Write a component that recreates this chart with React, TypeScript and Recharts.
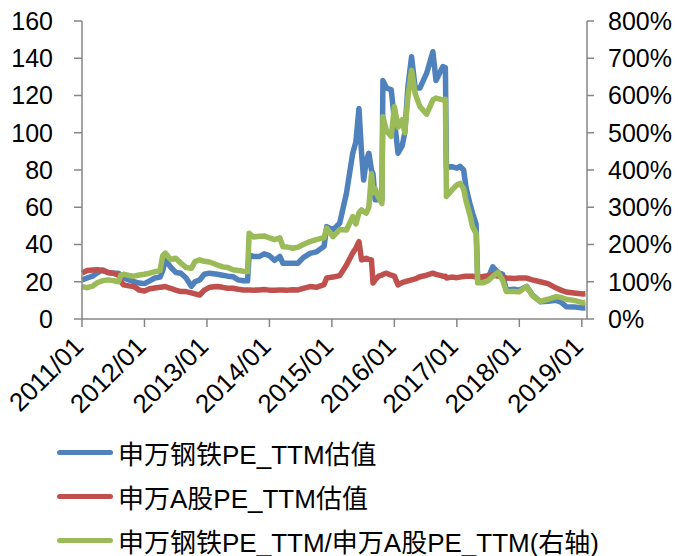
import { LineChart, Line, XAxis, YAxis, Legend } from 'recharts';

const FONT = '"Liberation Sans", Arial, "Noto Sans CJK SC", sans-serif';

// observation dates
const dates = [
  '2011-01-01', '2011-02-01', '2011-03-01', '2011-04-01', '2011-05-01', '2011-06-01', '2011-07-01', '2011-08-01',
  '2011-08-16', '2011-09-01', '2011-10-01', '2011-11-01', '2011-12-01', '2012-01-01', '2012-02-01', '2012-03-01',
  '2012-04-01', '2012-04-16', '2012-05-01', '2012-06-01', '2012-07-01', '2012-08-01', '2012-09-01', '2012-10-01',
  '2012-10-22', '2012-11-19', '2012-12-16', '2013-01-16', '2013-03-01', '2013-04-01', '2013-05-01', '2013-06-01',
  '2013-07-01', '2013-08-01', '2013-08-25', '2013-09-04', '2013-10-01', '2013-11-01', '2013-12-01', '2014-01-01',
  '2014-02-01', '2014-03-01', '2014-03-19', '2014-04-16', '2014-05-16', '2014-06-16', '2014-07-16', '2014-08-25',
  '2014-10-01', '2014-11-16', '2014-12-01', '2015-01-07', '2015-02-16', '2015-03-25', '2015-05-01', '2015-05-19',
  '2015-06-07', '2015-06-22', '2015-07-04', '2015-07-19', '2015-08-04', '2015-08-19', '2015-08-28', '2015-09-10',
  '2015-10-01', '2015-10-19', '2015-10-25', '2015-11-16', '2015-12-13', '2016-01-01', '2016-01-22', '2016-02-16',
  '2016-03-01', '2016-03-19', '2016-04-10', '2016-05-01', '2016-05-28', '2016-07-07', '2016-08-13', '2016-09-01',
  '2016-10-10', '2016-10-25', '2016-11-01', '2016-12-01', '2017-01-01', '2017-01-19', '2017-02-10', '2017-02-25',
  '2017-03-16', '2017-04-01', '2017-04-22', '2017-05-01', '2017-06-01', '2017-07-01', '2017-07-28', '2017-08-28',
  '2017-09-25', '2017-10-16', '2017-12-01', '2018-01-01', '2018-02-13', '2018-03-16', '2018-05-01', '2018-06-16',
  '2018-08-04', '2018-09-01', '2018-10-01', '2018-11-16', '2019-01-07', '2019-01-22',
];

// 申万钢铁 PE_TTM
const steelPE = [
  21, 22, 23, 25, 26.3, 25, 24.6, 24.6,
  23, 22, 21, 20, 19.3, 19, 20.5, 22,
  22.5, 26, 31.7, 28, 25, 24.6, 22, 17.5,
  20, 21, 24, 24.6, 24, 23.5, 23, 22.7,
  21, 20.5, 20.5, 34.4, 33.5, 33.5, 35, 34,
  31.5, 33.6, 29.9, 30, 30, 30, 33, 35.2,
  36, 39, 49.6, 47.8, 51.5, 67.6, 89, 95,
  113, 89, 74.6, 85, 89, 80, 78, 64,
  64, 64, 128, 124, 123, 107, 89, 93,
  100, 124.6, 140.8, 124, 124, 132, 143.5, 128,
  135.5, 135, 81.6, 81.8, 81, 82, 80, 70,
  62, 57, 51, 21, 19.8, 22, 28, 25,
  24, 15.6, 16, 15.5, 17.5, 13, 9.3, 9.5,
  10, 9, 6.6, 6.5, 5.9, 6,
];

// 申万A股 PE_TTM
const marketPE = [
  24.7, 26, 26.3, 26.5, 26, 25, 24.6, 23.6,
  20, 18.3, 17.8, 17.4, 15.5, 15, 16.2, 16.6,
  17, 17.2, 17.4, 16.5, 15.5, 14.7, 14.7, 14,
  13.5, 12.9, 15.5, 17, 17.4, 17, 16.5, 16.5,
  16, 15.6, 15.6, 15.6, 15.5, 15.6, 15.8, 15.5,
  15.4, 15.6, 15.6, 15.5, 15.7, 15.6, 16.4, 17.4,
  17, 18.5, 22, 22.5, 23.3, 29, 35.4, 38,
  41.5, 31.7, 32, 32.6, 32, 31.7, 19.3, 21,
  23, 23.5, 24, 24.6, 23.5, 23, 18.3, 19.5,
  20, 20.5, 21, 21.5, 22.7, 23.5, 24.6, 24,
  23, 23, 22, 22.5, 22.2, 22.5, 22.8, 23,
  23, 23, 22.5, 22.5, 22.8, 23.3, 23.6, 23,
  22.5, 22, 21.8, 22, 22, 21, 20, 19,
  16.6, 15.5, 14.5, 14, 13.4, 13.5,
];

// 申万钢铁PE_TTM / 申万A股PE_TTM, %
const ratioPct = [
  87, 84, 88, 98, 103, 105, 103, 100,
  118, 120, 117, 115, 118, 120, 123, 127,
  130, 170, 177, 160, 163, 150, 138, 136,
  154, 159, 155, 153, 145, 140, 138, 132,
  130, 128, 127, 230, 220, 222, 223, 218,
  213, 218, 194, 193, 190, 193, 200, 208,
  213, 218, 244, 221, 240, 239, 275, 255,
  285, 293, 288, 284, 300, 390, 338, 350,
  325, 310, 543, 505, 490, 570, 515, 535,
  500, 595, 668, 605, 570, 550, 588, 593,
  588, 590, 329, 345, 360, 364, 350, 315,
  280, 248, 230, 97, 97, 103, 114, 125,
  104, 74, 74, 73, 87, 63, 47, 53,
  60, 58, 53, 50, 44, 45,
];

const leftTicks = [0, 20, 40, 60, 80, 100, 120, 140, 160];
const rightTicks = [0, 100, 200, 300, 400, 500, 600, 700, 800];
const yearTicks = ['2011/01', '2012/01', '2013/01', '2014/01', '2015/01', '2016/01', '2017/01', '2018/01', '2019/01'];

const toMonth = (d: string) => {
  const [y, m, day] = d.split('-').map(Number);
  return (y - 2011) * 12 + (m - 1) + (day - 1) / 30;
};

const data = dates.map((d, i) => ({
  t: toMonth(d),
  steel: steelPE[i],
  market: marketPE[i],
  ratio: ratioPct[i],
}));

const xTickValues = yearTicks.map((s) => toMonth(s.replace('/', '-') + '-01'));

const series = [
  { key: 'steel', name: '申万钢铁PE_TTM估值', color: '#4F81BD', axis: 'left' },
  { key: 'market', name: '申万A股PE_TTM估值', color: '#C0504D', axis: 'left' },
  { key: 'ratio', name: '申万钢铁PE_TTM/申万A股PE_TTM(右轴)', color: '#9BBB59', axis: 'right' },
];

const XTick = ({ x, y, payload }: any) => {
  const idx = xTickValues.indexOf(payload.value);
  const label = yearTicks[idx] ?? '';
  const ax = x + 3;
  const ay = y + 21;
  return (
    <text x={ax} y={ay} textAnchor="end" fontSize={26} fill="#000" fontFamily={FONT}
      transform={`rotate(-45 ${ax} ${ay})`}>
      {label}
    </text>
  );
};

const LegendBox = () => (
  <div style={{ paddingLeft: 57, fontFamily: FONT, fontSize: 26, color: '#000' }}>
    {series.map((s) => (
      <div key={s.key} style={{ height: 44, display: 'flex', alignItems: 'center' }}>
        <span style={{ display: 'inline-block', width: 56, height: 5, borderRadius: 3, background: s.color, marginRight: 5 }} />
        <span style={{ whiteSpace: 'nowrap' }}>{s.name}</span>
      </div>
    ))}
  </div>
);

export default function App() {
  return (
    <div style={{ position: 'absolute', left: 0, top: 0, width: 678, height: 556, background: '#fff' }}>
      <LineChart width={678} height={556} data={data} margin={{ top: 21, right: 0, left: 0, bottom: 0 }}>
        <XAxis
          dataKey="t"
          type="number"
          domain={[0, 97]}
          ticks={xTickValues}
          interval={0}
          height={111}
          tick={<XTick />}
          tickSize={8}
          tickMargin={0}
          axisLine={{ stroke: '#868686', strokeWidth: 1.5 }}
          tickLine={{ stroke: '#868686', strokeWidth: 1.5 }}
        />
        <YAxis
          yAxisId="left"
          domain={[0, 160]}
          ticks={leftTicks}
          interval={0}
          width={82}
          tickSize={8}
          tickMargin={21}
          tick={{ fontSize: 25, fill: '#000', fontFamily: FONT }}
          axisLine={{ stroke: '#868686', strokeWidth: 1.5 }}
          tickLine={{ stroke: '#868686', strokeWidth: 1.5 }}
        />
        <YAxis
          yAxisId="right"
          orientation="right"
          domain={[0, 800]}
          ticks={rightTicks}
          interval={0}
          width={91}
          tickSize={7}
          tickMargin={14}
          tickFormatter={(v: number) => `${v}%`}
          tick={{ fontSize: 25, fill: '#000', fontFamily: FONT, textAnchor: 'start' }}
          axisLine={{ stroke: '#868686', strokeWidth: 1.5 }}
          tickLine={{ stroke: '#868686', strokeWidth: 1.5 }}
        />
        <Legend verticalAlign="bottom" align="left" height={126} content={<LegendBox />} />
        {series.map((s) => (
          <Line
            key={s.key}
            yAxisId={s.axis}
            dataKey={s.key}
            name={s.name}
            type="linear"
            stroke={s.color}
            strokeWidth={5.5}
            strokeLinejoin="round"
            dot={false}
            isAnimationActive={false}
          />
        ))}
      </LineChart>
    </div>
  );
}
